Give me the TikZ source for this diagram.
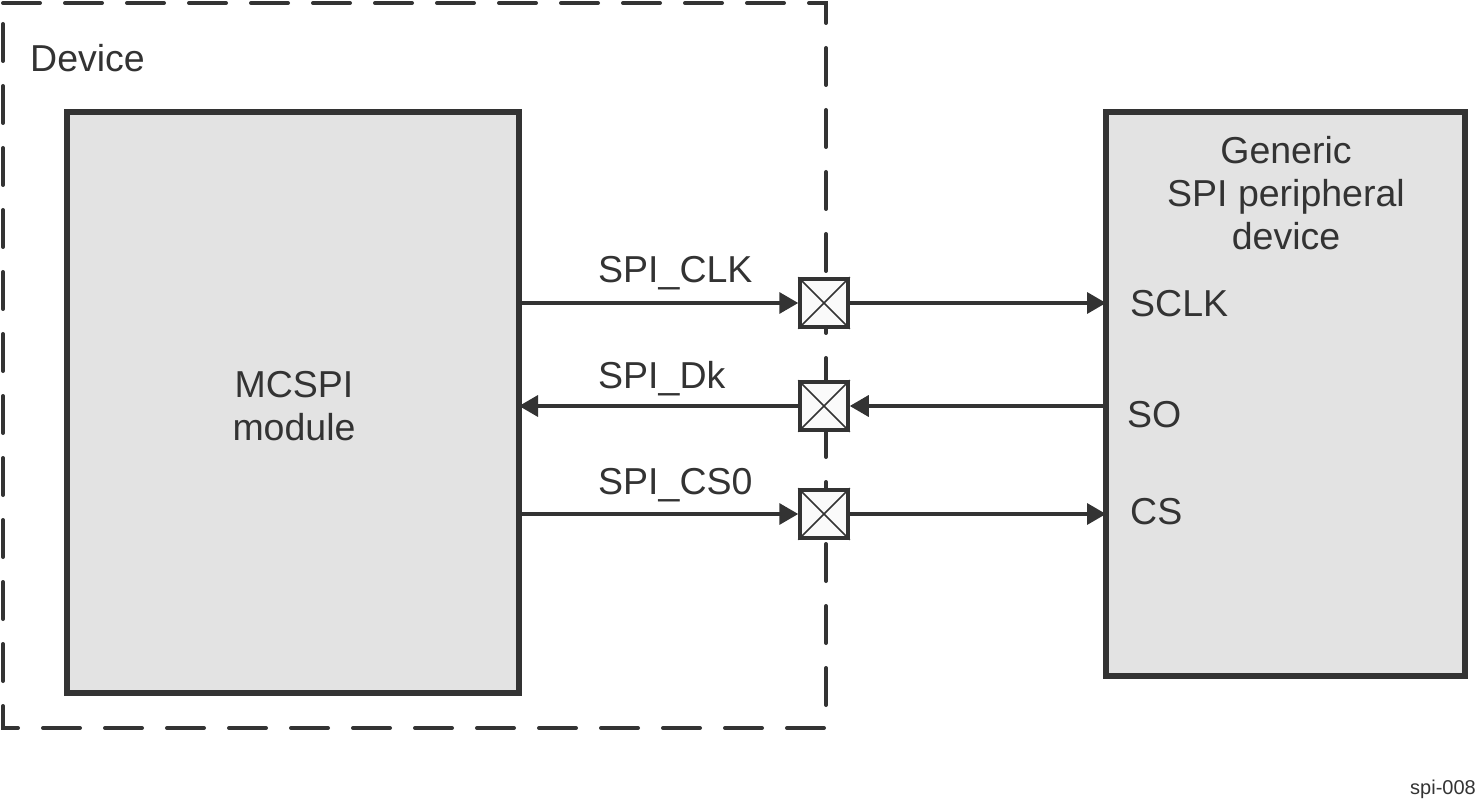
\documentclass[tikz,border=0pt]{standalone}
\usepackage{fontspec}
\setmainfont{Liberation Sans}
\usetikzlibrary{arrows.meta}
\definecolor{ink}{HTML}{333333}
\definecolor{boxgray}{HTML}{E3E3E3}
\definecolor{padfill}{HTML}{FAFAFA}
\tikzset{
  lbl/.style={inner sep=0pt, anchor=base west, text=ink, font=\fontsize{37.5}{43}\selectfont},
  block/.style={draw=ink, fill=boxgray, line width=6pt},
  padbox/.style={draw=ink, fill=padfill, line width=3.5pt, minimum width=48pt, minimum height=48pt, inner sep=0pt},
  sig/.style={draw=ink, line width=3.5pt, -{Triangle[length=19pt,width=21pt]}},
}
\begin{document}
\begin{tikzpicture}[x=1pt,y=-1pt]
\useasboundingbox (0,0) rectangle (1477,799);
% device boundary
\draw[ink, line width=4pt, line cap=round, dash pattern=on 37pt off 25pt] (3,3) -- (826,3) -- (826,728) -- (3,728) -- cycle;
\node[lbl] (devlbl) at (30,72) {Device};
% blocks
\draw[block] (67,112) rectangle (519,693);
\node[inner sep=0pt, align=center, text=ink, font=\fontsize{37.5}{43}\selectfont] (mcspi) at (294,406) {MCSPI\\module};
\draw[block] (1106,112) rectangle (1465,676);
\node[inner sep=0pt, align=center, text=ink, font=\fontsize{37.5}{43}\selectfont] (gen) at (1286,193) {Generic\\SPI peripheral\\device};
% coordinates on block edges
\coordinate (m1) at (519,303);
\coordinate (m2) at (519,406);
\coordinate (m3) at (519,514);
\coordinate (g1) at (1106,303);
\coordinate (g2) at (1106,406);
\coordinate (g3) at (1106,514);
% pads
\foreach \n/\y in {p1/303,p2/406,p3/514}{
  \node[padbox] (\n) at (824,\y) {};
  \draw[ink, line width=1.5pt] (\n.north west) -- (\n.south east) (\n.north east) -- (\n.south west);
}
% signals
\draw[sig] (m1) -- (p1.west);
\draw[sig] (p1.east) -- (g1);
\draw[sig] (g2) -- (p2.east);
\draw[sig] (p2.west) -- (m2);
\draw[sig] (m3) -- (p3.west);
\draw[sig] (p3.east) -- (g3);
% labels
\node[lbl] (l1) at (598,283) {SPI\_CLK};
\node[lbl] (l2) at (598,388) {SPI\_Dk};
\node[lbl] (l3) at (598,494) {SPI\_CS0};
\node[lbl] (s1) at (1130,317) {SCLK};
\node[lbl] (s2) at (1127,427) {SO};
\node[lbl] (s3) at (1130,524) {CS};
\node[lbl, font=\fontsize{20}{24}\selectfont] (tag) at (1410,794) {spi-008};
\end{tikzpicture}
\end{document}
